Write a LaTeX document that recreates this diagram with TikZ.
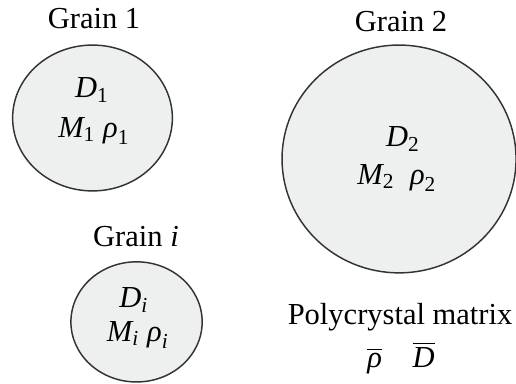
\documentclass[tikz,border=0pt]{standalone}
\usepackage{fontspec}
\usepackage{amsmath}
\setmainfont{Liberation Serif}
\usetikzlibrary{shapes.geometric}
\definecolor{grainfill}{HTML}{EEF0F0}
\definecolor{grainline}{HTML}{333333}
\newcommand{\gv}[2]{$\textit{#1}_{\textup{#2}}$}
\newcommand{\gvi}[1]{$\textit{#1}_{\textit{i}}$}

\begin{document}
\begin{tikzpicture}[
          grain/.style={draw=grainline, fill=grainfill, ellipse, line width=0.6pt, inner sep=0pt},
          lb/.style={font=\fontsize{12.5}{14}\selectfont, inner sep=0pt}
        ]
        \useasboundingbox (0,0) rectangle (7.43,5.515);
        % grain 1
        \node[grain, minimum width=2.30cm, minimum height=2.10cm] (g1) at (1.332,3.816) {};
        \node[lb] (t1) at (1.354,5.242) {Grain 1};
        \node[lb] (d1) at (1.325,4.219) {\gv{D}{1}};
        \node[lb] (m1) at (1.354,3.629) {\gv{M}{1} \gv{ρ}{1}};

        % grain 2
        \node[grain, minimum width=3.37cm, minimum height=3.28cm] (g2) at (5.746,3.226) {};
        \node[lb] (t2) at (5.774,5.198) {Grain 2};
        \node[lb] (d2) at (5.803,3.514) {\gv{D}{2}};
        \node[lb] (m2) at (5.717,2.952) {\gv{M}{2}\ \ \gv{ρ}{2}};

        % grain i
        \node[grain, minimum width=1.89cm, minimum height=1.73cm] (gi) at (1.966,0.880) {};
        \node[lb] (ti) at (1.958,2.102) {Grain \textit{i}};
        \node[lb] (di) at (1.930,1.195) {\gvi{D}};
        \node[lb] (mi) at (1.987,0.691) {\gvi{M} \gvi{ρ}};

        % matrix
        \node[lb] (pm) at (5.760,0.950) {Polycrystal matrix};
        \node[lb] (pv) at (5.774,0.360) {$\overline{\textit{ρ}}$\quad $\overline{\textit{D}}$};
      \end{tikzpicture}
\end{document}
